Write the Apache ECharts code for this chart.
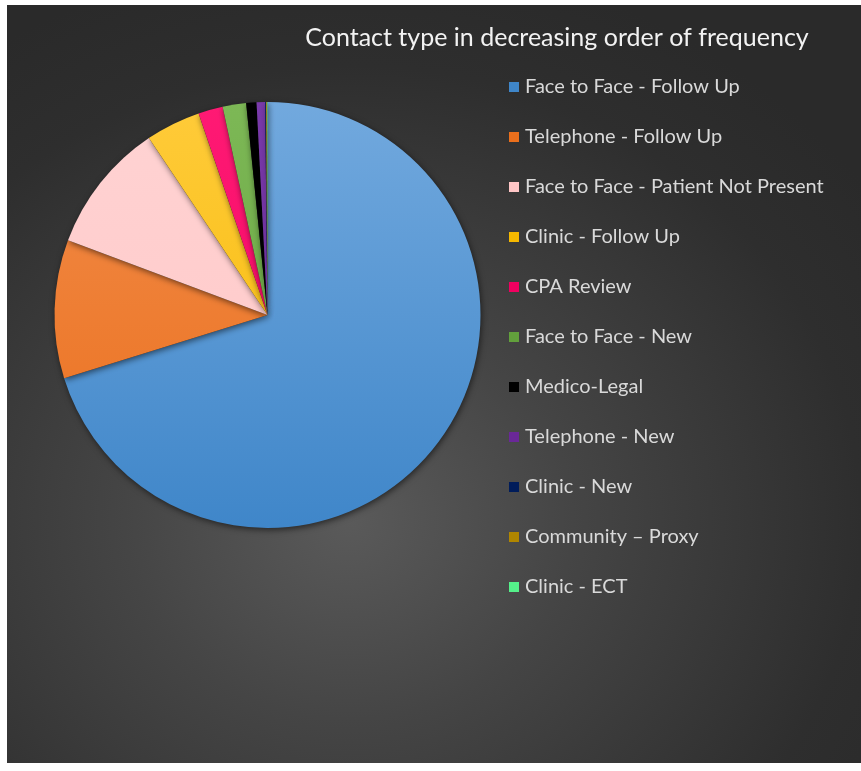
<!DOCTYPE html>
<html>
<head>
<meta charset="utf-8">
<script src="https://cdn.jsdelivr.net/npm/echarts@6/dist/echarts.min.js"></script>
<style>
  html, body { margin: 0; padding: 0; background: #ffffff; }
  #chart {
    position: absolute; left: 7px; top: 5px; width: 854px; height: 758px;
    background: radial-gradient(ellipse 75% 75% at 40% 68%, #5a5a5a 0%, #454545 35%, #2e2e2e 80%, #2a2a2a 100%);
  }
</style>
</head>
<body>
<div id="chart"></div>
<script>
// Contact types, most frequent first
const categories = [
  'Face to Face - Follow Up',
  'Telephone - Follow Up',
  'Face to Face - Patient Not Present',
  'Clinic - Follow Up',
  'CPA Review',
  'Face to Face - New',
  'Medico-Legal',
  'Telephone - New',
  'Clinic - New',
  'Community \u2013 Proxy',
  'Clinic - ECT'
];
const counts = [3510, 525, 495, 208, 93, 89, 39, 32, 4, 3, 2];
// top / bottom shade of each slice
const topColors = ['#72a9de', '#f28c4a', '#ffd3d3', '#ffcb3a', '#ff1a74', '#7db856', '#000000', '#7a3aab', '#0a2a6a', '#c29a1c', '#6dffa2'];
const bottomColors = ['#3f86c9', '#ea6f1c', '#ffc6c6', '#f5b800', '#f00060', '#62a03c', '#000000', '#6a2898', '#001c5a', '#b08600', '#55f08a'];

const chart = echarts.init(document.getElementById('chart'));

const data = categories.map((name, i) => ({
  name: name,
  value: counts[i],
  itemStyle: {
    color: new echarts.graphic.LinearGradient(0, 95, 0, 525, [
      { offset: 0, color: topColors[i] },
      { offset: 1, color: bottomColors[i] }
    ], true)
  }
}));

chart.setOption({
  backgroundColor: 'transparent',
  animation: false,
  title: {
    text: 'Contact type in decreasing order of frequency',
    left: 545,
    textAlign: 'center',
    top: 15,
    textStyle: {
      color: '#f2f2f2',
      fontFamily: 'Lato',
      fontWeight: 'normal',
      fontSize: 25
    }
  },
  legend: {
    orient: 'vertical',
    left: 497,
    top: 67,
    icon: 'rect',
    itemWidth: 10,
    itemHeight: 10,
    itemGap: 30,
    data: categories.map((name, i) => ({ name: name, itemStyle: { color: bottomColors[i] } })),
    textStyle: {
      color: '#d9d9d9',
      fontFamily: 'Lato',
      fontSize: 20,
      lineHeight: 20,
      padding: [0, 0, 0, 1]
    }
  },
  series: [{
    type: 'pie',
    center: [260.5, 310],
    radius: 213,
    startAngle: 90,
    clockwise: true,
    label: { show: false },
    labelLine: { show: false },
    itemStyle: {
      borderWidth: 0,
      shadowColor: 'rgba(0,0,0,0.55)',
      shadowBlur: 6,
      shadowOffsetX: 1,
      shadowOffsetY: 2
    },
    emphasis: { disabled: true },
    data: data
  }]
});
</script>
</body>
</html>
